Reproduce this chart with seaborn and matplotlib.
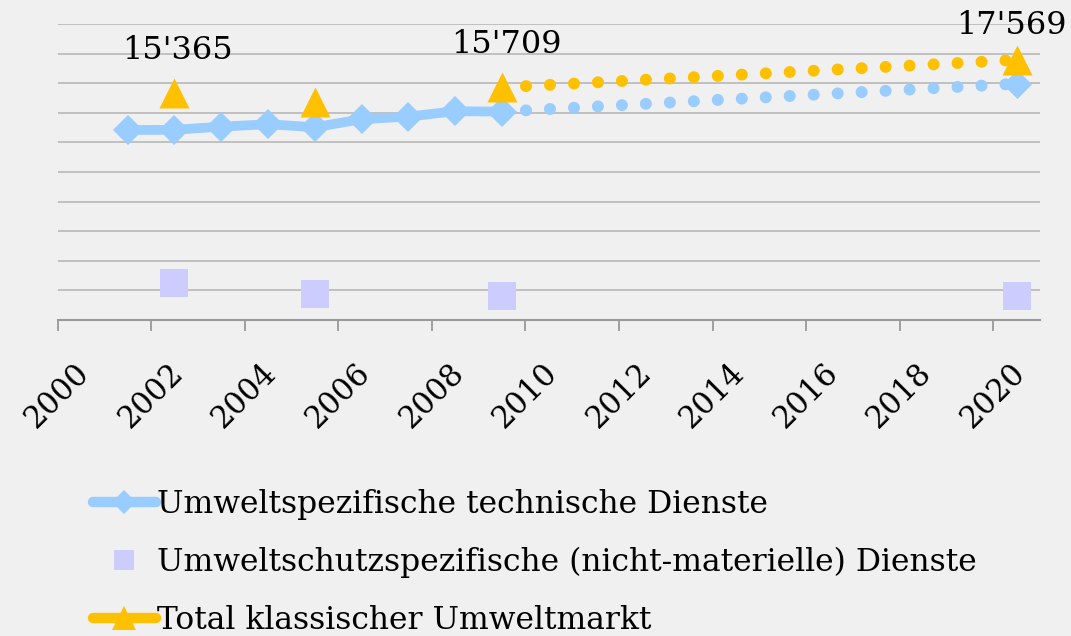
import numpy as np
import pandas as pd
import matplotlib.pyplot as plt
import matplotlib.transforms as mtransforms
import seaborn as sns
from matplotlib.lines import Line2D

# values are yearly figures; Excel draws each one in the middle of its year
years_tech = [2001, 2002, 2003, 2004, 2005, 2006, 2007, 2008, 2009]
tech_values = [12830, 12845, 13060, 13220, 13020, 13560, 13735, 14100, 14074]
years_tech_forecast = [2009, 2020]
tech_forecast = [14074, 15959]

years_services = [2002, 2005, 2009, 2020]
services_values = [2520, 1730, 1635, 1610]

years_total = [2002, 2005, 2009, 2020]
total_values = [15365, 14750, 15709, 17569]
years_total_forecast = [2009, 2020]
total_forecast = [15709, 17569]
total_labels = {2002: "15'365", 2009: "15'709", 2020: "17'569"}

tick_years = list(range(2000, 2021, 2))
legend_labels = ['Umweltspezifische technische Dienste',
                 'Umweltschutzspezifische (nicht-materielle) Dienste',
                 'Total klassischer Umweltmarkt']

BLUE = '#99ccff'
LILAC = '#ccccff'
ORANGE = '#ffc000'
BG = '#f0f0f0'
MID = 0.5
DOTTED = (0, (0.01, 2.0))

sns.set_style('white', {'axes.facecolor': BG, 'figure.facecolor': BG,
                        'text.color': 'black', 'xtick.color': 'black'})
plt.rcParams['font.family'] = ['DejaVu Serif']

fig = plt.figure(figsize=(10.71, 6.36), dpi=100)
ax = fig.add_axes([0.0537, 0.497, 0.9174, 0.4654])

tech = pd.DataFrame({'x': np.array(years_tech) + MID, 'y': tech_values})
tech_fc = pd.DataFrame({'x': np.array(years_tech_forecast) + MID, 'y': tech_forecast})
serv = pd.DataFrame({'x': np.array(years_services) + MID, 'y': services_values})
total = pd.DataFrame({'x': np.array(years_total) + MID, 'y': total_values})
total_fc = pd.DataFrame({'x': np.array(years_total_forecast) + MID, 'y': total_forecast})

sns.lineplot(data=tech_fc, x='x', y='y', ax=ax, color=BLUE, linewidth=8.6,
             linestyle=DOTTED, dash_capstyle='round', zorder=2)
sns.lineplot(data=total_fc, x='x', y='y', ax=ax, color=ORANGE, linewidth=8.6,
             linestyle=DOTTED, dash_capstyle='round', zorder=2)
sns.lineplot(data=tech, x='x', y='y', ax=ax, color=BLUE, linewidth=7,
             marker='D', markersize=14.8, markeredgewidth=0,
             solid_joinstyle='round', zorder=3)
sns.scatterplot(data=tech_fc.iloc[[-1]], x='x', y='y', ax=ax, color=BLUE,
                marker='D', s=14.8 ** 2, linewidth=0, zorder=3)
sns.scatterplot(data=serv, x='x', y='y', ax=ax, color=LILAC, marker='s',
                s=20.5 ** 2, linewidth=0, zorder=3)
sns.scatterplot(data=total, x='x', y='y', ax=ax, color=ORANGE, marker='^',
                s=21.6 ** 2, linewidth=0, zorder=4)

offsets = {2002: (2.5, 24), 2009: (3.5, 25), 2020: (-3.5, 19)}
for yr, txt in total_labels.items():
    val = total_values[years_total.index(yr)]
    ax.annotate(txt, xy=(yr + MID, val), xytext=offsets[yr],
                textcoords='offset points', ha='center', va='baseline',
                fontsize=23, color='black', annotation_clip=False)

ax.set_xlim(2000, 2021)
ax.set_ylim(0, 20000)
ax.set_yticks(np.arange(0, 20001, 2000))
ax.set_yticklabels([])
ax.set_xticks(tick_years)
ax.set_xticklabels([str(y) for y in tick_years], rotation=45, ha='center',
                   fontsize=22, color='black')
shift = mtransforms.ScaledTranslation(-6 / 100, 0, fig.dpi_scale_trans)
for lbl in ax.get_xticklabels():
    lbl.set_transform(lbl.get_transform() + shift)
ax.grid(axis='y', color='#c0c0c0', linewidth=1.4)
ax.set_axisbelow(True)
ax.tick_params(axis='x', length=8, width=1.3, color='#999999', pad=19,
               direction='out', bottom=True)
ax.tick_params(axis='y', length=0)
for side in ['top', 'right', 'left']:
    ax.spines[side].set_visible(False)
ax.spines['bottom'].set_color('#999999')
ax.spines['bottom'].set_linewidth(1.5)
ax.set_xlabel('')
ax.set_ylabel('')

handles = [
    Line2D([], [], color=BLUE, linewidth=7.5, marker='D', markersize=12,
           markeredgewidth=0, solid_capstyle='round'),
    Line2D([], [], color=LILAC, linestyle='none', marker='s', markersize=15,
           markeredgewidth=0),
    Line2D([], [], color=ORANGE, linewidth=7.5, marker='^', markersize=17,
           markeredgewidth=0, solid_capstyle='round'),
]
leg = fig.legend(handles, legend_labels, loc='upper left',
                 bbox_to_anchor=(0.0867, 0.231), bbox_transform=fig.transFigure,
                 frameon=False, fontsize=22.6, handlelength=2.0, handletextpad=0.05,
                 labelspacing=0.86, borderaxespad=0, borderpad=0)
for t in leg.get_texts():
    t.set_color('black')

fig.savefig('out.png', dpi=100, facecolor=fig.get_facecolor())
plt.close(fig)
